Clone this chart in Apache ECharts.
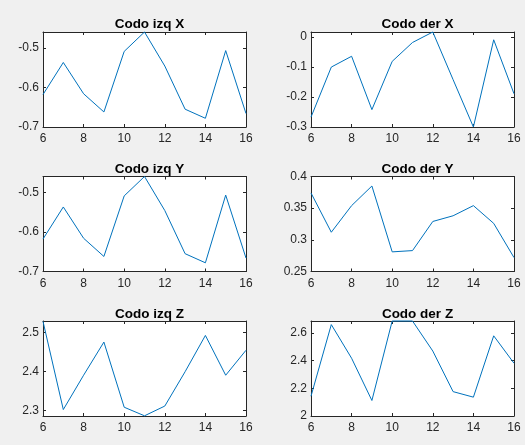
<!DOCTYPE html>
<html>
<head>
<meta charset="utf-8">
<style>
html,body{margin:0;padding:0;background:#f0f0f0;}
#chart{width:525px;height:445px;}
</style>
<script src="https://cdn.jsdelivr.net/npm/echarts@6/dist/echarts.min.js"></script>
</head>
<body>
<div id="chart"></div>
<script>
// ---- data ----
const xs = [6, 7, 8, 9, 10, 11, 12, 13, 14, 15, 16];
const xTicks = [6, 8, 10, 12, 14, 16];

const titles = ['Codo izq X', 'Codo der X', 'Codo izq Y', 'Codo der Y', 'Codo izq Z', 'Codo der Z'];

const codoIzqX = [-0.618, -0.537, -0.616, -0.662, -0.509, -0.460, -0.546, -0.655, -0.678, -0.507, -0.666];
const codoDerX = [-0.267, -0.100, -0.064, -0.242, -0.081, -0.018, 0.017, -0.142, -0.300, -0.009, -0.189];
const codoIzqY = [-0.618, -0.537, -0.616, -0.662, -0.509, -0.460, -0.546, -0.655, -0.678, -0.507, -0.666];
const codoDerY = [0.374, 0.312, 0.354, 0.385, 0.281, 0.283, 0.329, 0.338, 0.354, 0.326, 0.272];
const codoIzqZ = [2.529, 2.303, 2.391, 2.476, 2.309, 2.287, 2.312, 2.400, 2.493, 2.391, 2.455];
const codoDerZ = [2.143, 2.660, 2.417, 2.112, 2.686, 2.686, 2.469, 2.176, 2.136, 2.579, 2.381];

const yTicksIzqX = [-0.7, -0.6, -0.5];
const yTicksDerX = [-0.3, -0.2, -0.1, 0];
const yTicksIzqY = [-0.7, -0.6, -0.5];
const yTicksDerY = [0.25, 0.3, 0.35, 0.4];
const yTicksIzqZ = [2.3, 2.4, 2.5];
const yTicksDerZ = [2, 2.2, 2.4, 2.6];

const yLimIzqX = [-0.7, -0.46];
const yLimDerX = [-0.3, 0.017];
const yLimIzqY = [-0.7, -0.46];
const yLimDerY = [0.25, 0.4];
const yLimIzqZ = [2.2865, 2.53];
const yLimDerZ = [2, 2.686];

// ---- build ----
const seriesVals = [codoIzqX, codoDerX, codoIzqY, codoDerY, codoIzqZ, codoDerZ];
const yTicks = [yTicksIzqX, yTicksDerX, yTicksIzqY, yTicksDerY, yTicksIzqZ, yTicksDerZ];
const yLims = [yLimIzqX, yLimDerX, yLimIzqY, yLimDerY, yLimIzqZ, yLimDerZ];

const lefts = [43, 311];
const tops = [32, 176.5, 321];
const W = 203, H = 95;
const titleTops = [12, 157, 302];

const axisColor = '#262626';
const font = 'Liberation Sans, Arial, Helvetica, sans-serif';

const grids = [], xAxes = [], yAxes = [], series = [], title = [];
for (let i = 0; i < 6; i++) {
  const col = i % 2, row = Math.floor(i / 2);
  grids.push({left: lefts[col], top: tops[row], width: W, height: H,
    show: true, backgroundColor: '#ffffff', borderWidth: 0, containLabel: false});
  title.push({text: titles[i], left: lefts[col] + W / 2, top: titleTops[row], textAlign: 'center',
    textStyle: {fontFamily: font, fontSize: 13.5, fontWeight: 'bold', color: '#000'}});
  const common = {
    type: 'value', gridIndex: i, splitLine: {show: false},
    axisLine: {show: true, onZero: false, lineStyle: {color: axisColor, width: 1}},
  };
  xAxes.push(Object.assign({}, common, {
    position: 'bottom', min: 6, max: 16,
    axisTick: {show: true, inside: true, length: 3, customValues: xTicks, lineStyle: {color: axisColor}},
    axisLabel: {show: true, customValues: xTicks, margin: 6, color: axisColor, fontSize: 12, fontFamily: font}
  }));
  xAxes.push(Object.assign({}, common, {
    position: 'top', min: 6, max: 16,
    axisTick: {show: true, inside: true, length: 3, customValues: xTicks, lineStyle: {color: axisColor}},
    axisLabel: {show: false}
  }));
  yAxes.push(Object.assign({}, common, {
    position: 'left', min: yLims[i][0], max: yLims[i][1],
    axisTick: {show: true, inside: true, length: 3, customValues: yTicks[i], lineStyle: {color: axisColor}},
    axisLabel: {show: true, customValues: yTicks[i], margin: 4, color: axisColor, fontSize: 12, fontFamily: font}
  }));
  yAxes.push(Object.assign({}, common, {
    position: 'right', min: yLims[i][0], max: yLims[i][1],
    axisTick: {show: true, inside: true, length: 3, customValues: yTicks[i], lineStyle: {color: axisColor}},
    axisLabel: {show: false}
  }));
  series.push({
    type: 'line', xAxisIndex: 2 * i, yAxisIndex: 2 * i,
    data: xs.map((x, k) => [x, seriesVals[i][k]]),
    showSymbol: false, symbol: 'none', clip: false,
    lineStyle: {color: '#0072BD', width: 1}, itemStyle: {color: '#0072BD'},
    animation: false
  });
}

const chart = echarts.init(document.getElementById('chart'), null, {renderer: 'canvas'});
chart.setOption({
  backgroundColor: '#f0f0f0',
  animation: false,
  title: title,
  grid: grids,
  xAxis: xAxes,
  yAxis: yAxes,
  series: series
});
</script>
</body>
</html>
